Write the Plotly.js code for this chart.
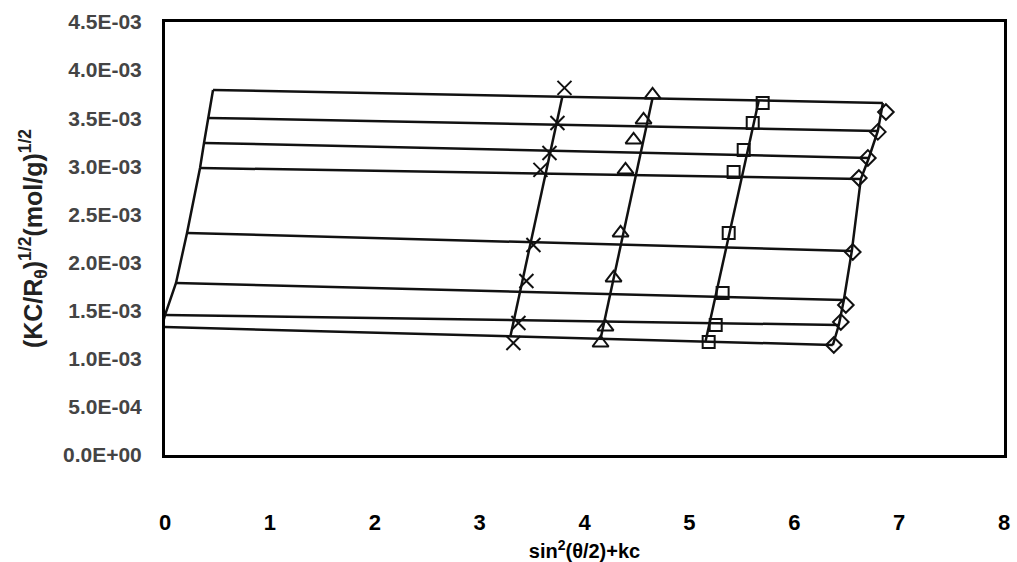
<!DOCTYPE html>
<html>
<head>
<meta charset="utf-8">
<script src="https://cdn.plot.ly/plotly-3.0.1.min.js"></script>
<style>
  html, body { margin: 0; padding: 0; background: #fff; }
  #chart { width: 1017px; height: 562px; }
</style>
</head>
<body>
<div id="chart"></div>
<script>
// Zimm plot: (KC/Rθ)^1/2 against sin²(θ/2)+kc

// Extrapolated c = 0 line (one node per scattering angle, top to bottom)
const zeroConcX = [0.458, 0.410, 0.372, 0.334, 0.210, 0.105, 0.000, -0.029];
const zeroConcY = [3.794e-3, 3.503e-3, 3.243e-3, 2.983e-3, 2.308e-3, 1.788e-3, 1.455e-3, 1.331e-3];

// Right-hand ends of the constant-angle lines (on the highest-concentration line)
const angleEndX = [6.845, 6.797, 6.711, 6.635, 6.549, 6.473, 6.425, 6.368];
const angleEndY = [3.659e-3, 3.368e-3, 3.087e-3, 2.869e-3, 2.121e-3, 1.611e-3, 1.351e-3, 1.143e-3];

// Constant-concentration fit lines (top end, bottom end)
const conc1LineX = [3.790, 3.294];
const conc1LineY = [3.732e-3, 1.237e-3];
const conc2LineX = [4.649, 4.153];
const conc2LineY = [3.711e-3, 1.206e-3];
const conc3LineX = [5.661, 5.155];
const conc3LineY = [3.680e-3, 1.185e-3];

// Measured points, one series per concentration
const conc1X = [3.809, 3.742, 3.666, 3.580, 3.513, 3.446, 3.370, 3.322];
const conc1Y = [3.815e-3, 3.451e-3, 3.139e-3, 2.963e-3, 2.183e-3, 1.808e-3, 1.372e-3, 1.164e-3];
const conc2X = [4.649, 4.563, 4.468, 4.391, 4.344, 4.277, 4.200, 4.153];
const conc2Y = [3.742e-3, 3.482e-3, 3.274e-3, 2.963e-3, 2.308e-3, 1.840e-3, 1.331e-3, 1.164e-3];
const conc3X = [5.699, 5.604, 5.518, 5.422, 5.375, 5.317, 5.251, 5.184];
const conc3Y = [3.659e-3, 3.451e-3, 3.170e-3, 2.942e-3, 2.308e-3, 1.684e-3, 1.351e-3, 1.175e-3];
const conc4X = [6.874, 6.797, 6.702, 6.616, 6.558, 6.492, 6.444, 6.377];
const conc4Y = [3.565e-3, 3.358e-3, 3.087e-3, 2.879e-3, 2.110e-3, 1.559e-3, 1.383e-3, 1.143e-3];

// Axis ticks
const xTickVals = [0, 1, 2, 3, 4, 5, 6, 7, 8];
const xTickText = ['0', '1', '2', '3', '4', '5', '6', '7', '8'];
const yTickVals = [0, 0.5e-3, 1.0e-3, 1.5e-3, 2.0e-3, 2.5e-3, 3.0e-3, 3.5e-3, 4.0e-3, 4.5e-3];
const yTickText = ['0.0E+00', '5.0E-04', '1.0E-03', '1.5E-03', '2.0E-03', '2.5E-03',
                   '3.0E-03', '3.5E-03', '4.0E-03', '4.5E-03'];

const lineStyle = { color: '#111', width: 2.5 };

// Constant-angle lines joined into one trace, separated by gaps
const rowX = [], rowY = [];
zeroConcX.forEach((x0, i) => {
  rowX.push(x0, angleEndX[i], null);
  rowY.push(zeroConcY[i], angleEndY[i], null);
});

function lineTrace(x, y) {
  return { x, y, type: 'scatter', mode: 'lines', line: lineStyle,
           hoverinfo: 'skip', showlegend: false };
}
function markerTrace(x, y, symbol, size) {
  return { x, y, type: 'scatter', mode: 'markers', showlegend: false,
           marker: { symbol, size, color: '#111', line: { color: '#111', width: 2 } } };
}

const traces = [
  lineTrace(rowX, rowY),
  lineTrace(zeroConcX, zeroConcY),
  lineTrace(angleEndX, angleEndY),
  lineTrace(conc1LineX, conc1LineY),
  lineTrace(conc2LineX, conc2LineY),
  lineTrace(conc3LineX, conc3LineY),
  markerTrace(conc1X, conc1Y, 'x-thin-open', 14),
  markerTrace(conc2X, conc2Y, 'triangle-up-open', 14),
  markerTrace(conc3X, conc3Y, 'square-open', 12),
  markerTrace(conc4X, conc4Y, 'diamond-open', 12)
];

const font = 'Liberation Sans, Arial, sans-serif';

const layout = {
  width: 1017,
  height: 562,
  margin: { l: 165, r: 13, t: 22, b: 107 },
  paper_bgcolor: '#fff',
  plot_bgcolor: '#fff',
  showlegend: false,
  xaxis: {
    range: [0, 8],
    tickmode: 'array',
    tickvals: xTickVals,
    ticktext: xTickText,
    ticks: '',
    ticklabelstandoff: 46,
    showgrid: false,
    zeroline: false,
    showline: true,
    mirror: true,
    linecolor: '#000',
    linewidth: 3,
    tickfont: { family: font, size: 22, color: '#000', weight: 'bold' },
    title: {
      text: 'sin<sup>2</sup>(θ/2)+kc',
      font: { family: font, size: 20, color: '#000', weight: 'bold' },
      standoff: 12
    }
  },
  yaxis: {
    range: [0, 4.5e-3],
    tickmode: 'array',
    tickvals: yTickVals,
    ticktext: yTickText,
    ticks: '',
    ticklabelstandoff: 16,
    showgrid: false,
    zeroline: false,
    showline: true,
    mirror: true,
    linecolor: '#000',
    linewidth: 3,
    tickfont: { family: font, size: 21, color: '#444', weight: 'bold' },
    title: {
      text: '(KC/R<sub>θ</sub>)<sup>1/2</sup>(mol/g)<sup>1/2</sup>',
      font: { family: font, size: 25, color: '#222', weight: 'bold' },
      standoff: 14
    }
  }
};

Plotly.newPlot('chart', traces, layout, { displayModeBar: false, staticPlot: true });
</script>
</body>
</html>
